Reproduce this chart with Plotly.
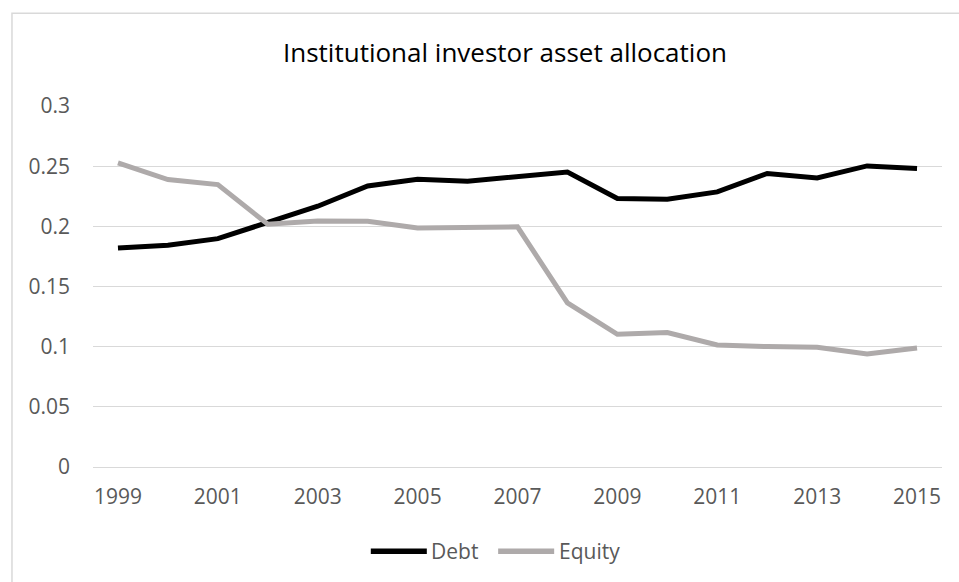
import plotly.graph_objects as go

# Share of institutional investor assets held in debt vs. equity, 1999-2015
years = list(range(1999, 2016))
debt = [0.182, 0.1843, 0.1898, 0.2028, 0.2167, 0.2336, 0.2391, 0.2375, 0.2416,
        0.2452, 0.2231, 0.2225, 0.2286, 0.2439, 0.2402, 0.2502, 0.2480]
equity = [0.2527, 0.2389, 0.2347, 0.2017, 0.2045, 0.2042, 0.1987, 0.1990, 0.1996,
          0.1363, 0.1103, 0.1117, 0.1014, 0.1001, 0.0995, 0.0939, 0.0989]
x_ticks = list(range(1999, 2016, 2))
y_ticks = [0, 0.05, 0.1, 0.15, 0.2, 0.25, 0.3]

series_names = ["Debt", "Equity"]
series_colors = ["#000000", "#AEAAAA"]

W, H = 959, 582
L, R, T, B = 93, 17.3, 105.7, 115.3
plot_w = W - L - R
plot_h = H - T - B
FONT = "Open Sans"
TICK_COLOR = "#595959"
GRID = "#D9D9D9"


def px_to_paper(px, py):
    return (px - L) / plot_w, (H - B - py) / plot_h


fig = go.Figure()
for name, vals, col in zip(series_names, [debt, equity], series_colors):
    fig.add_trace(go.Scatter(
        x=years, y=vals, mode="lines", name=name,
        line=dict(color=col, width=5), showlegend=False,
    ))

shapes = []
annotations = []

# outer chart frame (only left and top edges fall inside the canvas)
fx0, fy1 = px_to_paper(12, 13)
fx1, fy0 = px_to_paper(W + 20, H + 20)
shapes.append(dict(type="rect", xref="paper", yref="paper",
                   x0=fx0, x1=fx1, y0=fy0, y1=fy1,
                   line=dict(color=GRID, width=1.5), fillcolor="rgba(0,0,0,0)",
                   layer="below"))

# legend at the bottom centre
legend_items = [(370.7, 426.7, 429), (498, 554, 557)]
for (lx0, lx1, tx), name, col in zip(legend_items, series_names, series_colors):
    ax0, ay = px_to_paper(lx0, 551)
    ax1, _ = px_to_paper(lx1, 551)
    shapes.append(dict(type="line", xref="paper", yref="paper",
                       x0=ax0, x1=ax1, y0=ay, y1=ay,
                       line=dict(color=col, width=5.5)))
    tx_p, _ = px_to_paper(tx, 551)
    annotations.append(dict(xref="paper", yref="paper", x=tx_p, y=ay,
                            text=name, showarrow=False, xanchor="left",
                            yanchor="middle",
                            font=dict(family=FONT, size=21, color=TICK_COLOR)))

fig.update_layout(
    width=W, height=H,
    margin=dict(l=L, r=R, t=T, b=B),
    paper_bgcolor="white", plot_bgcolor="white",
    title=dict(text="Institutional investor asset allocation",
               x=(283 + 727) / 2 / W, xanchor="center",
               y=1 - 53 / H, yanchor="middle",
               font=dict(family=FONT, size=26, color="#000000")),
    xaxis=dict(range=[1998.5, 2015.5], tickmode="array", tickvals=x_ticks,
               ticktext=[str(v) for v in x_ticks], showgrid=False,
               zeroline=False, showline=False, ticks="",
               ticklabelstandoff=15,
               tickfont=dict(family=FONT, size=21, color=TICK_COLOR)),
    yaxis=dict(range=[0, 0.3], tickmode="array", tickvals=y_ticks,
               ticktext=["0", "0.05", "0.1", "0.15", "0.2", "0.25", "0.3"],
               showgrid=True, gridcolor=GRID, gridwidth=1.3,
               zeroline=True, zerolinecolor=GRID, zerolinewidth=1.3,
               showline=False, ticks="",
               ticklabelstandoff=22,
               tickfont=dict(family=FONT, size=21, color=TICK_COLOR)),
    shapes=shapes,
    annotations=annotations,
    showlegend=False,
)

fig.write_html("out.html")
